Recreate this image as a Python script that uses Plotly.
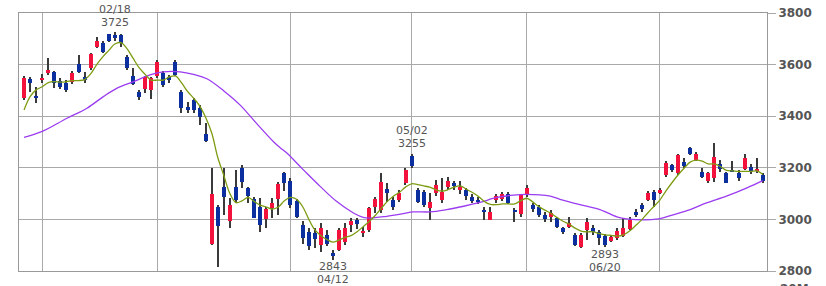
import plotly.graph_objects as go

# ---- daily OHLC ----
opens = [3469, 3544, 3480, 3540, 3567, 3571, 3536, 3529, 3533, 3602,
         3552, 3587, 3668, 3684, 3719, 3715, 3715, 3629, 3556, 3494,
         3505, 3502, 3556, 3566, 3551, 3610, 3495, 3437, 3463, 3433,
         3331, 2903, 3049, 3127, 2994, 3127, 3198, 3120, 3079, 3049,
         3002, 3043, 3079, 3181, 3150, 3072, 2980, 2952, 2948, 2901,
         2940, 2871, 2882, 2912, 2978, 2998, 2946, 2960, 3049, 3036,
         3117, 3075, 3075, 3140, 3247, 3114, 3107, 3043, 3101, 3075,
         3127, 3142, 3114, 3114, 3085, 3075, 3035, 2998, 3075, 3080,
         3098, 3038, 3020, 3095, 3056, 3049, 3017, 3008, 3004, 2965,
         2972, 2940, 2894, 2960, 2966, 2952, 2935, 2918, 2928, 2937,
         2962, 3030, 3055, 3075, 3107, 3102, 3172, 3210, 3180, 3223,
         3275, 3232, 3185, 3150, 3160, 3215, 3181, 3191, 3180, 3195,
         3202, 3188, 3173]
highs = [3555, 3552, 3513, 3565, 3626, 3575, 3550, 3540, 3575, 3637,
         3571, 3645, 3707, 3691, 3720, 3725, 3720, 3637, 3587, 3502,
         3556, 3552, 3618, 3575, 3560, 3618, 3502, 3456, 3470, 3443,
         3372, 3198, 3055, 3198, 3082, 3191, 3211, 3127, 3088, 3082,
         3049, 3082, 3146, 3185, 3160, 3080, 2992, 2967, 2967, 2986,
         2960, 2880, 2965, 2985, 3005, 3005, 2970, 3050, 3088, 3180,
         3140, 3088, 3114, 3198, 3255, 3122, 3114, 3101, 3153, 3160,
         3165, 3150, 3150, 3122, 3098, 3085, 3050, 3050, 3100, 3107,
         3105, 3045, 3100, 3133, 3062, 3056, 3030, 3036, 3010, 2970,
         3010, 2948, 2948, 3004, 2978, 2960, 2942, 2938, 2965, 3004,
         3010, 3040, 3065, 3110, 3114, 3122, 3225, 3215, 3255, 3237,
         3280, 3260, 3200, 3185, 3297, 3232, 3185, 3225, 3190, 3252,
         3215, 3237, 3180]
lows = [3462, 3495, 3451, 3530, 3560, 3510, 3506, 3494, 3525, 3567,
        3529, 3579, 3664, 3645, 3688, 3691, 3668, 3579, 3521, 3463,
        3490, 3467, 3548, 3515, 3529, 3555, 3411, 3411, 3411, 3366,
        3300, 2900, 2817, 3017, 2968, 3064, 3120, 3062, 3004, 2952,
        2966, 3005, 3017, 3110, 3045, 3004, 2905, 2882, 2890, 2875,
        2895, 2843, 2878, 2900, 2952, 2962, 2930, 2950, 3024, 3024,
        3069, 3038, 3069, 3133, 3200, 3062, 3049, 2998, 3090, 3062,
        3114, 3114, 3100, 3075, 3062, 3060, 2998, 2998, 3062, 3070,
        3060, 2990, 3010, 3088, 3030, 3010, 2990, 2990, 2966, 2942,
        2966, 2895, 2890, 2920, 2940, 2900, 2893, 2912, 2922, 2930,
        2958, 3008, 3030, 3070, 3049, 3098, 3165, 3185, 3172, 3198,
        3250, 3225, 3160, 3140, 3145, 3185, 3140, 3183, 3150, 3190,
        3175, 3180, 3140]
closes = [3547, 3529, 3474, 3548, 3579, 3529, 3513, 3502, 3567, 3571,
          3540, 3641, 3691, 3649, 3691, 3705, 3684, 3587, 3525, 3474,
          3552, 3548, 3610, 3521, 3541, 3558, 3433, 3425, 3424, 3398,
          3304, 3097, 2973, 3088, 3056, 3075, 3146, 3090, 3007, 2978,
          3040, 3062, 3137, 3140, 3055, 3008, 2928, 2895, 2925, 2966,
          2903, 2858, 2958, 2968, 2994, 2983, 2956, 3043, 3078, 3146,
          3103, 3050, 3103, 3191, 3206, 3069, 3056, 3069, 3133, 3107,
          3150, 3128, 3127, 3092, 3070, 3066, 3027, 3030, 3090, 3098,
          3064, 3028, 3094, 3120, 3040, 3017, 3000, 3024, 2972, 2953,
          2987, 2902, 2940, 2990, 2951, 2927, 2902, 2933, 2956, 2966,
          2998, 3018, 3040, 3101, 3076, 3114, 3220, 3190, 3250, 3208,
          3255, 3252, 3166, 3178, 3243, 3195, 3142, 3184, 3160, 3237,
          3188, 3195, 3147]

# ---- short moving average (green), one value per day ----
ma_short = [3424, 3476, 3502, 3514, 3530, 3534, 3532, 3534, 3538, 3538,
            3542, 3564, 3600, 3630, 3655, 3680, 3685, 3662, 3625, 3588,
            3562, 3540, 3540, 3540, 3552, 3556, 3530, 3496, 3470, 3440,
            3395, 3335, 3240, 3170, 3100, 3065, 3072, 3085, 3070, 3055,
            3048, 3040, 3048, 3072, 3085, 3078, 3050, 3002, 2960, 2938,
            2922, 2912, 2920, 2930, 2937, 2952, 2972, 2992, 3015, 3043,
            3070, 3090, 3105, 3125, 3138, 3135, 3130, 3125, 3115, 3110,
            3115, 3125, 3130, 3118, 3105, 3090, 3070, 3058, 3057, 3060,
            3060, 3060, 3072, 3082, 3068, 3050, 3036, 3024, 3008, 2993,
            2982, 2966, 2955, 2952, 2952, 2945, 2940, 2938, 2935, 2940,
            2955, 2976, 2998, 3025, 3050, 3075, 3110, 3142, 3172, 3198,
            3222, 3230, 3226, 3215, 3215, 3205, 3190, 3188, 3186, 3186,
            3186, 3188, 3175]

# ---- long moving average (purple) ----
ma_long_pos = [0, 2.9, 7.1, 10.4, 13.1, 15.3, 18.1, 20.8, 23, 25.8,
               28, 30.2, 33, 35.7, 38.4, 41.2, 42.3, 43.4, 46.1, 48.9,
               51.6, 54.4, 56, 57.1, 59.9, 62.6, 64.3, 67, 69.8, 72.6,
               75.3, 78.1, 80.8, 82.9, 86.9, 88.5, 91.8, 95.1, 97.9, 99.5,
               104.8, 107.2, 110, 112.7, 116, 119.4, 122]
ma_long_val = [3318, 3340, 3392, 3431, 3476, 3508, 3534, 3560, 3572, 3572,
               3562, 3545, 3498, 3443, 3372, 3301, 3278, 3257, 3193, 3128,
               3070, 3025, 3008, 3005, 3012, 3022, 3029, 3029, 3038, 3051,
               3066, 3085, 3094, 3097, 3090, 3078, 3057, 3038, 3010, 3002,
               3002, 3018, 3038, 3064, 3090, 3122, 3150]

month_start_idx = [3, 22, 44, 64, 83, 105]
y_ticks = [2800, 3000, 3200, 3400, 3600, 3800]

high_label_idx = [15, 64]
high_label_date = ["02/18", "05/02"]
low_label_idx = [51, 96]
low_label_date = ["04/12", "06/20"]

UP = "#f2123c"
DOWN = "#0b2f9e"
WICK = "#3a3a3a"
GRID = "#a9a9a9"
TXT = "#555555"

x = list(range(len(opens)))
body_base = [min(o, c) for o, c in zip(opens, closes)]
body_h = [abs(c - o) for o, c in zip(opens, closes)]
body_col = [UP if c >= o else DOWN for o, c in zip(opens, closes)]

fig = go.Figure()
fig.add_trace(go.Bar(x=x, y=[h - l for h, l in zip(highs, lows)], base=lows,
                     width=0.17, marker=dict(color=WICK, line=dict(width=0)),
                     hoverinfo="skip"))
fig.add_trace(go.Bar(x=x, y=body_h, base=body_base, width=0.66,
                     marker=dict(color=body_col, line=dict(width=0)),
                     hoverinfo="skip"))
fig.add_trace(go.Scatter(x=ma_long_pos, y=ma_long_val, mode="lines",
                         line=dict(color="#9b3cf0", width=1.3, shape="spline")))
fig.add_trace(go.Scatter(x=x, y=ma_short, mode="lines",
                         line=dict(color="#7d9c12", width=1.3, shape="spline")))

ann = []
afont = dict(family="DejaVu Sans", size=11, color=TXT)
for i, d in zip(high_label_idx, high_label_date):
    ann.append(dict(x=i, y=highs[i], text=str(highs[i]), showarrow=False,
                    yanchor="middle", yshift=10, font=afont))
    ann.append(dict(x=i, y=highs[i], text=d, showarrow=False,
                    yanchor="middle", yshift=23, font=afont))
for i, d in zip(low_label_idx, low_label_date):
    ann.append(dict(x=i, y=lows[i], text=str(lows[i]), showarrow=False,
                    yanchor="middle", yshift=-7, font=afont))
    ann.append(dict(x=i, y=lows[i], text=d, showarrow=False,
                    yanchor="middle", yshift=-20, font=afont))
ann.append(dict(xref="paper", yref="paper", x=1.0147, y=-0.07, text="20M",
                showarrow=False, xanchor="left", yanchor="middle",
                font=dict(family="DejaVu Sans", size=12, color=TXT, weight="bold")))

fig.update_layout(
    template="none",
    width=826, height=286,
    margin=dict(l=19, r=59, t=13, b=15),
    paper_bgcolor="white", plot_bgcolor="white",
    showlegend=False, barmode="overlay", bargap=0,
    annotations=ann,
    xaxis=dict(range=[-0.83, 122.7], tickvals=month_start_idx,
               showticklabels=False, ticks="", showgrid=True,
               gridcolor=GRID, gridwidth=1, zeroline=False,
               showline=True, mirror=True, linecolor="#999999", linewidth=1),
    yaxis=dict(range=[2800, 3800], side="right", tickvals=y_ticks,
               ticks="outside", ticklen=8, tickcolor=GRID, tickwidth=1,
               showgrid=True, gridcolor=GRID, gridwidth=1, zeroline=False,
               showline=True, mirror=True, linecolor="#999999", linewidth=1,
               tickfont=dict(family="DejaVu Sans", size=12, color=TXT, weight="bold")),
)

fig.write_html("out.html")
